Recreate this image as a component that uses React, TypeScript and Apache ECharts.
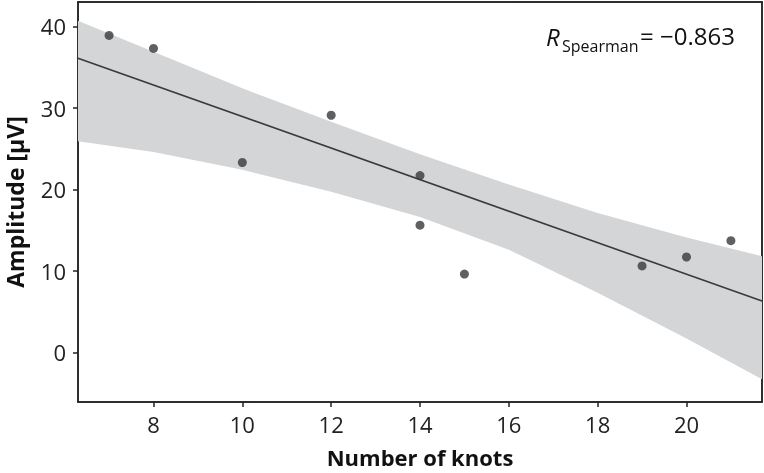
import React, { useEffect, useRef } from "react";
import * as echarts from "echarts";

const knots = [7, 8, 10, 12, 14, 14, 15, 19, 20, 21];
const amplitude = [38.9, 37.3, 23.3, 29.1, 21.7, 15.6, 9.6, 10.6, 11.7, 13.7];

const fitX = [6.3, 21.7];
const fitY = [36.1, 6.3];

const bandX = [6.3, 8, 10, 12, 14, 16, 18, 20, 21.7];
const bandLower = [25.9, 24.6, 22.4, 19.7, 16.6, 12.6, 7.3, 1.7, -3.3];
const bandUpper = [40.7, 36.9, 32.4, 28.3, 24.3, 20.6, 17.1, 14.1, 11.8];

const xTicks = [8, 10, 12, 14, 16, 18, 20];
const yTicks = [0, 10, 20, 30, 40];

const FONT = "'Open Sans', 'Noto Sans', sans-serif";
const X_MIN = 6.3;
const X_MAX = 21.7;
const Y_MIN = -6.1;
const Y_MAX = 43;

export default function App() {
  const ref = useRef<HTMLDivElement>(null);
  useEffect(() => {
    if (!ref.current) return;
    const chart = echarts.init(ref.current, null, { renderer: "svg" });
    const line = { show: true, onZero: false, lineStyle: { color: "#222", width: 1.5 } };
    const tick = { show: true, length: 5, lineStyle: { color: "#222", width: 1.5 } };
    const label = { color: "#222", fontSize: 22, fontFamily: FONT };
    const nameStyle = { color: "#111", fontSize: 23, fontWeight: "bold", fontFamily: FONT, lineHeight: 22 };
    const boxAxis = {
      axisLine: line,
      axisTick: { show: false },
      axisLabel: { show: false },
      splitLine: { show: false },
    };
    chart.setOption({
      animation: false,
      grid: {
        left: 78,
        top: 2,
        right: 2,
        bottom: 71,
        outerBoundsMode: "none",
        containLabel: false,
        show: true,
        borderColor: "#222",
        borderWidth: 1.5,
      },
      xAxis: [
        {
          type: "value",
          min: X_MIN,
          max: X_MAX,
          name: "Number of knots",
          nameLocation: "middle",
          nameGap: 44,
          nameTextStyle: { ...nameStyle, fontSize: 22 },
          axisLine: line,
          splitLine: { show: false },
          axisTick: { ...tick, customValues: xTicks },
          axisLabel: { ...label, lineHeight: 20, margin: 12, customValues: xTicks },
        },
        { type: "value", position: "top", min: X_MIN, max: X_MAX, ...boxAxis },
      ],
      yAxis: [
        {
          type: "value",
          min: Y_MIN,
          max: Y_MAX,
          name: "Amplitude [µV]",
          nameLocation: "middle",
          nameGap: 52,
          nameTextStyle: nameStyle,
          axisLine: line,
          splitLine: { show: false },
          axisTick: { ...tick, customValues: yTicks },
          axisLabel: { ...label, margin: 12, customValues: yTicks },
        },
        { type: "value", position: "right", min: Y_MIN, max: Y_MAX, ...boxAxis },
      ],
      series: [
        {
          type: "custom",
          z: 1,
          silent: true,
          data: [[bandX[0], bandLower[0]]],
          renderItem: (params: any, api: any) => {
            const pts: number[][] = [];
            for (let i = 0; i < bandX.length; i++) pts.push(api.coord([bandX[i], bandUpper[i]]));
            for (let i = bandX.length - 1; i >= 0; i--) pts.push(api.coord([bandX[i], bandLower[i]]));
            return {
              type: "polygon",
              shape: { points: pts },
              style: { fill: "#d4d5d7", stroke: "none" },
            };
          },
        },
        {
          type: "line",
          z: 2,
          data: fitX.map((x, i) => [x, fitY[i]]),
          showSymbol: false,
          symbol: "none",
          lineStyle: { color: "#3a3a3c", width: 1.6 },
        },
        {
          type: "scatter",
          z: 3,
          data: knots.map((x, i) => [x, amplitude[i]]),
          symbolSize: 9,
          itemStyle: { color: "#38383a" },
        },
      ],
      graphic: [
        {
          type: "text",
          left: 546,
          top: 24,
          style: { text: "R", fontSize: 24, fontStyle: "italic", fontFamily: FONT, fill: "#111" },
        },
        {
          type: "text",
          left: 562,
          top: 38,
          style: { text: "Spearman", fontSize: 16, fontFamily: FONT, fill: "#111" },
        },
        {
          type: "text",
          left: 640,
          top: 23,
          style: { text: "= −0.863", fontSize: 24, fontFamily: FONT, fill: "#111" },
        },
      ],
    });
    return () => chart.dispose();
  }, []);
  return (
    <div
      ref={ref}
      style={{ position: "fixed", left: 0, top: 0, width: 764, height: 473 }}
    />
  );
}
